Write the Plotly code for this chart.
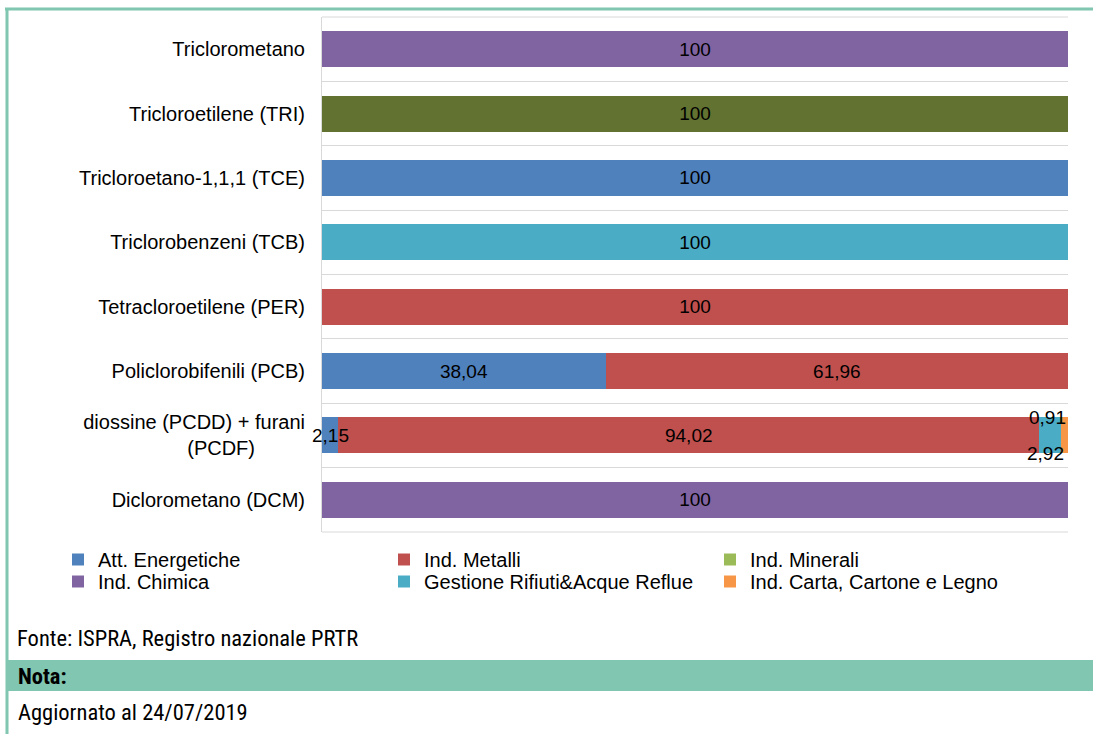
import plotly.graph_objects as go

# ---------------- data ----------------
categories = [
    "Triclorometano",
    "Tricloroetilene (TRI)",
    "Tricloroetano-1,1,1 (TCE)",
    "Triclorobenzeni (TCB)",
    "Tetracloroetilene (PER)",
    "Policlorobifenili (PCB)",
    "diossine (PCDD) + furani<br>(PCDF)" + "\u00a0" * 9,
    "Diclorometano (DCM)",
]
att_energetiche = [0, 0, 100, 0, 0, 38.04, 2.15, 0]
ind_metalli = [0, 0, 0, 0, 100, 61.96, 94.02, 0]
ind_minerali = [0, 0, 0, 0, 0, 0, 0, 0]
ind_chimica = [100, 0, 0, 0, 0, 0, 0, 100]
gestione_rifiuti = [0, 0, 0, 100, 0, 0, 2.92, 0]
ind_carta = [0, 0, 0, 0, 0, 0, 0.91, 0]
altro = [0, 100, 0, 0, 0, 0, 0, 0]  # series not shown in legend

# name, values, colour, legend ("" = hidden)
series = [
    ("Att. Energetiche", att_energetiche, "#4F81BD", "legend"),
    ("Ind. Metalli", ind_metalli, "#C0504D", "legend"),
    ("Ind. Minerali", ind_minerali, "#9BBB59", "legend"),
    ("Ind. Chimica", ind_chimica, "#8064A2", "legend2"),
    ("Gestione Rifiuti&Acque Reflue", gestione_rifiuti, "#4BACC6", "legend2"),
    ("Ind. Carta, Cartone e Legno", ind_carta, "#F79646", "legend2"),
    ("Altro", altro, "#627331", ""),
]

FONT = "Liberation Sans, Arial, sans-serif"
NARROW = "Liberation Sans Narrow, Arial Narrow, Roboto Condensed, Liberation Sans, sans-serif"
W, H = 1093, 734
L, R, T, B = 322, 1068, 17, 532


def fmt(v):
    return f"{v:g}".replace(".", ",")


def px_x(p):
    return (p - L) / (R - L)


def px_y(p):
    return (B - p) / (B - T)


fig = go.Figure()
small = []  # (series index, category index, value)
for si, (name, vals, color, leg) in enumerate(series):
    texts = []
    for ci, v in enumerate(vals):
        if v >= 10:
            texts.append(fmt(v))
        else:
            texts.append("")
            if v > 0:
                small.append((si, ci, v))
    fig.add_trace(go.Bar(
        name=name, y=categories, x=vals, orientation="h",
        marker=dict(color=color, line=dict(width=0)),
        text=texts, textposition="inside", insidetextanchor="middle",
        textfont=dict(family=FONT, size=19, color="black"),
        showlegend=bool(leg), legend=leg or "legend", hoverinfo="x+name",
    ))

# labels for thin segments, positioned at segment centre from data
shifts = {2.15: (0, 0), 2.92: (-5, -18), 0.91: (-17, 18)}
annotations = []
for si, ci, v in small:
    start = sum(series[k][1][ci] for k in range(si))
    xs, ys = shifts.get(v, (0, 0))
    annotations.append(dict(
        x=start + v / 2, y=categories[ci], xref="x", yref="y",
        text=fmt(v), showarrow=False, xshift=xs, yshift=ys,
        font=dict(family=FONT, size=19, color="black"),
    ))

border = "#80C6B0"
grid = "#D9D9D9"
foot_font = dict(family=NARROW, size=22.5, color="black")
annotations += [
    dict(x=px_x(15), y=px_y(638), xref="paper", yref="paper", xanchor="left", yanchor="middle",
         text="Fonte: ISPRA, Registro nazionale PRTR", showarrow=False, font=foot_font),
    dict(x=px_x(16), y=px_y(676), xref="paper", yref="paper", xanchor="left", yanchor="middle",
         text="<b>Nota:</b>", showarrow=False, font=foot_font),
    dict(x=px_x(16), y=px_y(712), xref="paper", yref="paper", xanchor="left", yanchor="middle",
         text="Aggiornato al 24/07/2019", showarrow=False, font=foot_font),
]

shapes = [
    dict(type="rect", xref="paper", yref="paper", x0=px_x(8), x1=px_x(W + 5),
         y0=px_y(691), y1=px_y(660), fillcolor=border, line=dict(width=0), layer="below"),
    dict(type="line", xref="paper", yref="paper", x0=px_x(5), x1=px_x(W + 5),
         y0=px_y(9), y1=px_y(9), line=dict(color=border, width=3)),
    dict(type="line", xref="paper", yref="paper", x0=px_x(7), x1=px_x(7),
         y0=px_y(8), y1=px_y(H + 5), line=dict(color=border, width=3)),
    # top and bottom boundary lines of the plot area
    dict(type="line", xref="paper", yref="paper", x0=0, x1=1, y0=1, y1=1,
         line=dict(color=grid, width=1), layer="below"),
    dict(type="line", xref="paper", yref="paper", x0=0, x1=1, y0=0, y1=0,
         line=dict(color=grid, width=1), layer="below"),
]

leg_common = dict(orientation="h", xanchor="left", yanchor="top",
                  entrywidth=281, entrywidthmode="pixels", traceorder="normal",
                  font=dict(family=FONT, size=20), itemclick=False,
                  bgcolor="rgba(0,0,0,0)")

fig.update_layout(
    width=W, height=H,
    barmode="stack", bargap=0.44,
    margin=dict(l=L, r=W - R, t=T, b=H - B, pad=0),
    paper_bgcolor="white", plot_bgcolor="white",
    font=dict(family=FONT, size=20, color="black"),
    xaxis=dict(range=[0, 100], showgrid=False, showticklabels=False, zeroline=False,
               showline=False, fixedrange=True),
    yaxis=dict(autorange="reversed", tickson="boundaries", showgrid=True,
               gridcolor=grid, gridwidth=1, showline=True, linecolor=grid,
               ticks="", ticklabelstandoff=12, tickfont=dict(family=FONT, size=20)),
    legend=dict(x=px_x(58), y=px_y(540), **leg_common),
    legend2=dict(x=px_x(58), y=px_y(562), **leg_common),
    annotations=annotations, shapes=shapes,
    showlegend=True,
)

fig.write_html(
    "out.html",
    config={"displayModeBar": False},
    post_script="document.body.style.margin='0';document.body.style.overflow='hidden';"
                "window.dispatchEvent(new Event('resize'));",
)
